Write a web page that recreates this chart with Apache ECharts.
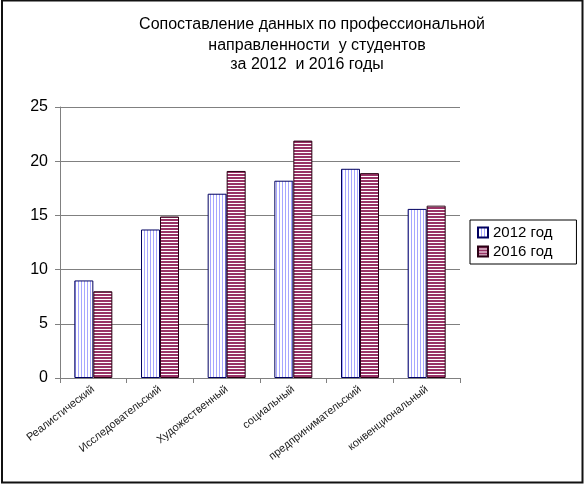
<!DOCTYPE html>
<html><head><meta charset="utf-8">
<script src="https://cdn.jsdelivr.net/npm/echarts@6/dist/echarts.min.js"></script>
<style>html,body{margin:0;padding:0;background:#fff}#c{width:585px;height:486px}</style>
</head><body><div id="c"></div>
<script>
var categories = ['Реалистический','Исследовательский','Художественный','социальный','предпринимательский','конвенциональный'];
var series2012 = [9, 13.7, 17, 18.2, 19.3, 15.6];
var series2016 = [8, 14.9, 19.1, 21.9, 18.9, 15.9];
var yTicks = [0, 5, 10, 15, 20, 25];
var seriesNames = ['2012 год', '2016 год'];
var titleLines = ['Сопоставление данных по профессиональной', 'направленности  у студентов', 'за 2012  и 2016 годы'];

function pattern(vertical, line, bg, period, lw) {
  var c = document.createElement('canvas');
  c.width = vertical ? period : 1;
  c.height = vertical ? 1 : period;
  var ctx = c.getContext('2d');
  ctx.fillStyle = bg; ctx.fillRect(0, 0, c.width, c.height);
  ctx.fillStyle = line;
  if (vertical) ctx.fillRect(0, 0, lw, 1); else ctx.fillRect(0, 0, 1, lw);
  return {image: c, repeat: 'repeat'};
}
var p2012 = pattern(true, '#a6a6ff', '#ffffff', 3, 1);
var p2016 = pattern(false, '#993366', '#ffffff', 3, 2);

var chart = echarts.init(document.getElementById('c'));
var font = 'Arial, "Liberation Sans", sans-serif';
var tStyle = {fontSize: 16, fontWeight: 'normal', color: '#000', fontFamily: font};
chart.setOption({
  animation: false,
  title: [
    {text: titleLines[0], left: 307, top: 12, textAlign: 'center', textStyle: tStyle},
    {text: titleLines[1], left: 312, top: 33, textAlign: 'center', textStyle: tStyle},
    {text: titleLines[2], left: 302, top: 52, textAlign: 'center', textStyle: tStyle}
  ],
  graphic: [{type: 'rect', shape: {x: 2, y: 0.5, width: 580.5, height: 482}, style: {fill: 'none', stroke: '#111', lineWidth: 2}, silent: true}],
  legend: {
    orient: 'vertical', left: 470, top: 220,
    borderColor: '#000', borderWidth: 1, padding: [5, 24, 5, 7],
    icon: 'rect',
    itemWidth: 10, itemHeight: 10, itemGap: 4,
    textStyle: {fontSize: 15, color: '#000', fontFamily: font},
    data: seriesNames
  },
  grid: {left: 60, right: 125, top: 107, bottom: 108},
  xAxis: {
    type: 'category', data: categories,
    axisLine: {lineStyle: {color: '#808080'}},
    axisTick: {show: true, length: 5, lineStyle: {color: '#808080'}},
    axisLabel: {rotate: 38, fontSize: 11, color: '#222', fontFamily: font, margin: 10, interval: 0}
  },
  yAxis: {
    type: 'value', min: yTicks[0], max: yTicks[yTicks.length - 1], interval: 5,
    axisLine: {show: true, lineStyle: {color: '#808080'}},
    axisTick: {show: true, length: 5, lineStyle: {color: '#808080'}},
    splitLine: {lineStyle: {color: '#808080', width: 1}},
    axisLabel: {fontSize: 16, color: '#000', fontFamily: font, margin: 12}
  },
  series: [
    {name: seriesNames[0], type: 'bar', data: series2012, barGap: '0%', barCategoryGap: '43%',
     itemStyle: {color: p2012, borderColor: '#000060', borderWidth: 1}},
    {name: seriesNames[1], type: 'bar', data: series2016,
     itemStyle: {color: p2016, borderColor: '#2a0014', borderWidth: 1}}
  ]
});
</script></body></html>
